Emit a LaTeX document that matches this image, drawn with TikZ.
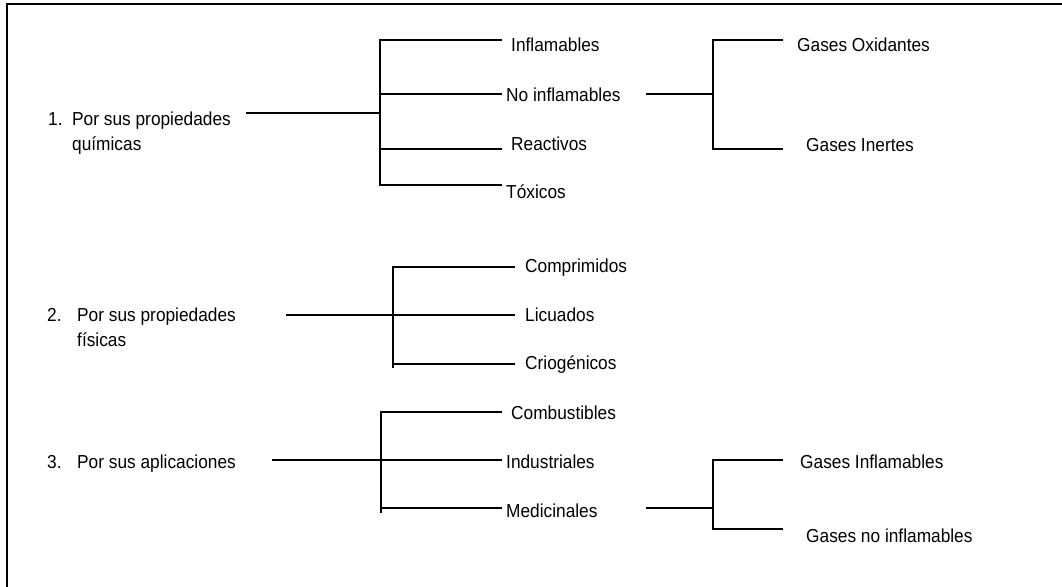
\documentclass[tikz,border=0pt]{standalone}
\usepackage{fontspec}
\setmainfont[FakeStretch=0.92]{Liberation Sans}
\begin{document}
\begin{tikzpicture}[x=1pt,y=-1pt,
  lbl/.style={anchor=base west,inner sep=0pt,font=\fontsize{18.8}{25}\selectfont},
  link/.style={line width=2pt,line cap=rect},
  frame/.style={line width=2pt}]
\useasboundingbox (0,0) rectangle (1062,586);

% outer frame (only top and left edges fall on the page)
\coordinate (fbl) at (7,590);
\coordinate (ftl) at (7,4);
\coordinate (ftr) at (1066,4);
\draw[frame] (fbl) -- (ftl) -- (ftr);

% ---------- 1. Propiedades químicas ----------
\node[lbl] (n1) at (48,125) {1.};
\node[lbl] (t1) at (72,125) {Por sus propiedades};
\node[lbl] (t1b) at (72,150) {químicas};
\node[lbl] (infl) at (511,52) {Inflamables};
\node[lbl] (noinfl) at (506,101) {No inflamables};
\node[lbl] (react) at (511,150) {Reactivos};
\node[lbl] (tox) at (506,198) {Tóxicos};
\node[lbl] (oxid) at (797,52) {Gases Oxidantes};
\node[lbl] (inert) at (806,151) {Gases Inertes};

\coordinate (a0) at (247,113);
\coordinate (aj) at (380,113);
\coordinate (aj1) at (380,40);
\coordinate (aj2) at (380,94);
\coordinate (aj3) at (380,149);
\coordinate (aj4) at (380,185);
\coordinate (ae1) at (501,40);
\coordinate (ae2) at (501,94);
\coordinate (ae3) at (501,149);
\coordinate (ae4) at (501,185);
\draw[link] (a0) -- (aj);
\draw[link] (ae1) -- (aj1) -- (aj4) -- (ae4);
\draw[link] (aj2) -- (ae2);
\draw[link] (aj3) -- (ae3);

\coordinate (b0) at (647,94);
\coordinate (bj) at (713,94);
\coordinate (bj1) at (713,40);
\coordinate (bj2) at (713,149);
\coordinate (be1) at (782,40);
\coordinate (be2) at (782,149);
\draw[link] (b0) -- (bj);
\draw[link] (be1) -- (bj1) -- (bj2) -- (be2);

% ---------- 2. Propiedades físicas ----------
\node[lbl] (n2) at (47,321) {2.};
\node[lbl] (t2) at (77,321) {Por sus propiedades};
\node[lbl] (t2b) at (77,346) {físicas};
\node[lbl] (compr) at (525,272) {Comprimidos};
\node[lbl] (licu) at (525,321) {Licuados};
\node[lbl] (crio) at (525,369) {Criogénicos};

\coordinate (c0) at (287,315);
\coordinate (ce2) at (514,315);
\coordinate (cj1) at (393,267);
\coordinate (cj3) at (393,364);
\coordinate (cjb) at (393,367);
\coordinate (ce1) at (514,267);
\coordinate (ce3) at (514,364);
\draw[link] (c0) -- (ce2);
\draw[link] (ce1) -- (cj1) -- (cjb);
\draw[link] (cj3) -- (ce3);

% ---------- 3. Aplicaciones ----------
\node[lbl] (n3) at (47,468) {3.};
\node[lbl] (t3) at (77,468) {Por sus aplicaciones};
\node[lbl] (comb) at (511,419) {Combustibles};
\node[lbl] (indu) at (506,468) {Industriales};
\node[lbl] (medi) at (506,517) {Medicinales};
\node[lbl] (ginf) at (800,468) {Gases Inflamables};
\node[lbl] (gnoinf) at (806,542) {Gases no inflamables};

\coordinate (d0) at (273,460);
\coordinate (de2) at (501,460);
\coordinate (dj1) at (381,412);
\coordinate (dj3) at (381,508);
\coordinate (djb) at (381,512);
\coordinate (de1) at (501,412);
\coordinate (de3) at (501,508);
\draw[link] (d0) -- (de2);
\draw[link] (de1) -- (dj1) -- (djb);
\draw[link] (dj3) -- (de3);

\coordinate (e0) at (647,508);
\coordinate (ej) at (713,508);
\coordinate (ej1) at (713,460);
\coordinate (ej2) at (713,529);
\coordinate (ee1) at (782,460);
\coordinate (ee2) at (782,529);
\draw[link] (e0) -- (ej);
\draw[link] (ee1) -- (ej1) -- (ej2) -- (ee2);
\end{tikzpicture}
\end{document}
